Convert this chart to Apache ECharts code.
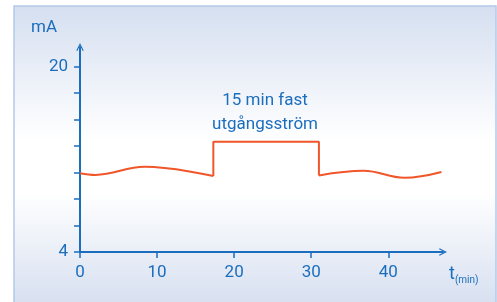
<!DOCTYPE html>
<html lang="sv">
<head>
    <meta charset="UTF-8">
    <title>utgångsström</title>
    <script type="text/javascript" src="https://cdn.jsdelivr.net/npm/echarts@6/dist/echarts.min.js"></script>
    <style>
        html, body { margin: 0; padding: 0; background: #fff; }
    </style>
</head>
<body>
<div id="chart" style="width: 497px;height:302px;"></div>
<script type="text/javascript">
    // tid (min) och ström (mA)
    let timeBefore = [0, 2, 8.4, 17.3];
    let currentBefore = [10.8, 10.65, 11.35, 10.55];
    let timeFixed = [17.3, 17.3, 31.0, 31.0];
    let currentFixed = [10.55, 13.5, 13.5, 10.6];
    let timeAfter = [31.0, 36.8, 42.1, 46.9];
    let currentAfter = [10.6, 11.0, 10.4, 10.9];

    let xTicks = [0, 10, 20, 30, 40];
    let yTicks = [4, 6.29, 8.57, 10.86, 13.14, 15.43, 17.71, 20];
    let yTickLabels = [4, 20];

    const blue = '#1b6dbd';
    const red = '#f0562a';
    const font = 'Roboto';

    // öppen pil i axlarnas ände
    const arrowPath = 'path://M0,10 L5,0 L10,10 L8.6,10.8 L5,3.2 L1.4,10.8 Z';

    function pairs(xs, ys) {
        return xs.map((x, i) => [x, ys[i]]);
    }

    function lineSeries(xs, ys, smooth) {
        return {
            type: 'line',
            data: pairs(xs, ys),
            smooth: smooth,
            symbol: 'none',
            silent: true,
            lineStyle: { color: red, width: 2 }
        };
    }

    let option = {
        animation: false,
        graphic: [
            {
                type: 'rect',
                shape: { x: 14, y: 6, width: 482, height: 300 },
                style: {
                    fill: new echarts.graphic.LinearGradient(0, 0, 0, 1, [
                        { offset: 0, color: '#d5dff0' },
                        { offset: 0.45, color: '#ffffff' },
                        { offset: 0.62, color: '#ffffff' },
                        { offset: 1, color: '#d6dff0' }
                    ]),
                    stroke: '#b5c9e8',
                    lineWidth: 1.5
                },
                z: -10
            },
            {
                type: 'text',
                left: 31,
                top: 19,
                style: { text: 'mA', fill: blue, font: '17px ' + font }
            },
            {
                type: 'text',
                x: 265,
                y: 113,
                style: {
                    text: '15 min fast\nutgångsström',
                    fill: blue,
                    font: '17px ' + font,
                    lineHeight: 24,
                    align: 'center',
                    verticalAlign: 'middle'
                }
            },
            {
                type: 'text',
                x: 449,
                y: 265,
                style: {
                    text: '{t|t}{s|(min)}',
                    rich: {
                        t: { fill: blue, fontSize: 18, fontFamily: font, verticalAlign: 'top' },
                        s: { fill: blue, fontSize: 10, fontFamily: font, padding: [10, 0, 0, 0] }
                    }
                }
            }
        ],
        grid: { left: 80, right: 54, top: 47, bottom: 50 },
        xAxis: {
            type: 'value',
            min: 0,
            max: 47.1,
            axisLine: {
                lineStyle: { color: blue, width: 2 },
                symbol: ['none', arrowPath],
                symbolSize: [12, 8]
            },
            axisTick: {
                show: true,
                customValues: xTicks,
                length: 6,
                lineStyle: { color: blue, width: 1.5 }
            },
            axisLabel: {
                customValues: xTicks,
                color: blue,
                fontSize: 17,
                fontFamily: font,
                margin: 12
            },
            splitLine: { show: false }
        },
        yAxis: {
            type: 'value',
            min: 4,
            max: 21.68,
            axisLine: {
                show: true,
                lineStyle: { color: blue, width: 2 },
                symbol: ['none', arrowPath],
                symbolSize: [12, 8]
            },
            axisTick: {
                show: true,
                customValues: yTicks,
                length: 6,
                lineStyle: { color: blue, width: 1.5 }
            },
            axisLabel: {
                customValues: yTickLabels,
                color: blue,
                fontSize: 17,
                fontFamily: font,
                margin: 12
            },
            splitLine: { show: false }
        },
        series: [
            lineSeries(timeBefore, currentBefore, 0.4),
            lineSeries(timeFixed, currentFixed, false),
            lineSeries(timeAfter, currentAfter, 0.4)
        ]
    };

    echarts.init(document.getElementById('chart')).setOption(option);
</script>
</body>
</html>
